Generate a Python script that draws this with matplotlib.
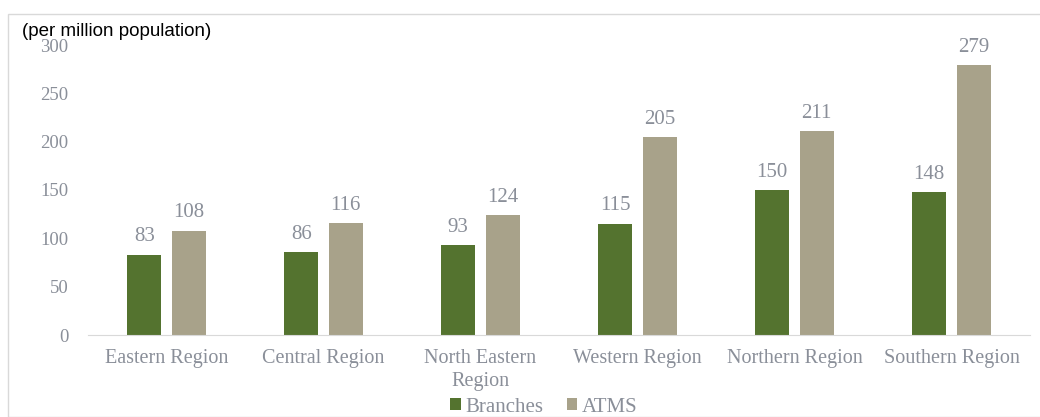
import matplotlib
matplotlib.use("Agg")
import matplotlib.pyplot as plt
from matplotlib.patches import Rectangle
import numpy as np

categories = ["Eastern Region", "Central Region", "North Eastern\nRegion",
              "Western Region", "Northern Region", "Southern Region"]
branches = [83, 86, 93, 115, 150, 148]
atms = [108, 116, 124, 205, 211, 279]
series_names = ["Branches", "ATMS"]
yticks = [0, 50, 100, 150, 200, 250, 300]

green = "#54732F"
tan = "#A8A28A"
txt = "#8A8F99"
serif = ["Liberation Serif", "DejaVu Serif"]

fig = plt.figure(figsize=(10.40, 4.17), dpi=100)
fig.patches.append(Rectangle((8/1040, 0), 1.0, 1 - 14/417, transform=fig.transFigure,
                             fill=False, edgecolor="#D9D9D9", linewidth=1.0))
ax = fig.add_axes([88/1040, 1 - 335/417, (1030 - 88)/1040, (335 - 45)/417])

x = np.arange(len(categories))
w = 0.22
off = 0.142
b1 = ax.bar(x - off, branches, w, color=green, label=series_names[0])
b2 = ax.bar(x + off, atms, w, color=tan, label=series_names[1])
for bars, vals in ((b1, branches), (b2, atms)):
    for r, v in zip(bars, vals):
        ax.annotate(str(v), (r.get_x() + r.get_width()/2, v), xytext=(0, 6),
                    textcoords="offset points", ha="center", va="bottom",
                    fontsize=15, color=txt, family=serif)

ax.set_xlim(-0.5, len(categories) - 0.5)
ax.set_ylim(0, 300)
ax.set_yticks(yticks)
ax.set_yticklabels([str(t) for t in yticks], family=serif, fontsize=13.5, color=txt)
ax.set_xticks(x)
ax.set_xticklabels(categories, family=serif, fontsize=14.5, color=txt, linespacing=1.3)
ax.tick_params(axis="both", length=0)
ax.tick_params(axis="y", pad=14)
ax.tick_params(axis="x", pad=10)
for s in ["top", "right", "left"]:
    ax.spines[s].set_visible(False)
ax.spines["bottom"].set_color("#D9D9D9")

fig.text(22/1040, 1 - 32/417, "(per million population)", fontsize=13.5,
         family=["Liberation Sans", "DejaVu Sans"], color="#000000", va="center", ha="left")

leg = fig.legend(handles=[b1, b2], labels=series_names, loc="center",
                 bbox_to_anchor=(544/1040, 1 - 407/417), ncol=2, frameon=False,
                 prop={"family": serif, "size": 15}, handlelength=0.5, handleheight=0.5,
                 handletextpad=0.25, columnspacing=1.1, borderpad=0)
for t in leg.get_texts():
    t.set_color(txt)

fig.savefig("out.png", dpi=100)
